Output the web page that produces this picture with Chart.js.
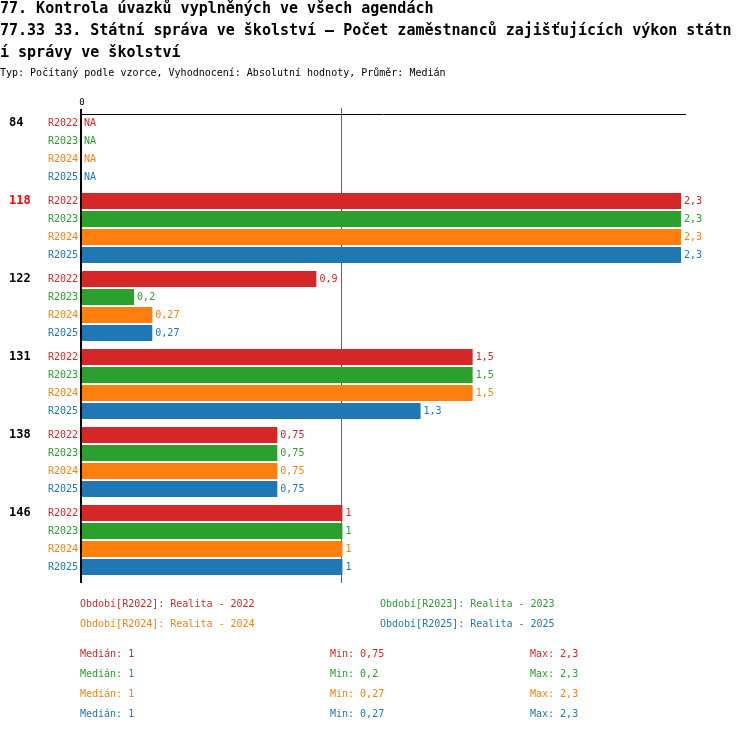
<!DOCTYPE html>
<html>
<head>
<meta charset="utf-8">
<script src="https://cdn.jsdelivr.net/npm/chart.js@4.4.1/dist/chart.umd.min.js"></script>
<style>
  body { margin: 0; background: #fff; }
  #wrap { position: relative; width: 750px; height: 732px; font-family: "DejaVu Sans Mono", monospace; }
  canvas { position: absolute; left: 0; top: 0; }
  .t { position: absolute; white-space: pre; }
  .title { left: 0; top: -3px; font-size: 15px; font-weight: bold; line-height: 22px; color: #000; }
  .sub { left: 0; top: 67px; font-size: 10px; line-height: 12px; color: #000; }
  .lg { font-size: 10px; line-height: 12px; }
</style>
</head>
<body>
<div id="wrap">
  <canvas id="chart" width="750" height="732"></canvas>
  <div class="t title">77. Kontrola úvazků vyplněných ve všech agendách
77.33 33. Státní správa ve školství – Počet zaměstnanců zajišťujících výkon státn
í správy ve školství</div>
  <div class="t sub">Typ: Počítaný podle vzorce, Vyhodnocení: Absolutní hodnoty, Průměr: Medián</div>
  <div id="legend"></div>
</div>
<script>
// kategorie (skupiny) a hodnoty řad
const categories = ['84', '118', '122', '131', '138', '146'];
const seriesNames = ['R2022', 'R2023', 'R2024', 'R2025'];
const seriesTitles = ['Realita - 2022', 'Realita - 2023', 'Realita - 2024', 'Realita - 2025'];
const colors = ['#d62728', '#2ca02c', '#ff7f0e', '#1f77b4'];

const r2022 = [null, 2.3, 0.9, 1.5, 0.75, 1];
const r2023 = [null, 2.3, 0.2, 1.5, 0.75, 1];
const r2024 = [null, 2.3, 0.27, 1.5, 0.75, 1];
const r2025 = [null, 2.3, 0.27, 1.3, 0.75, 1];
const seriesValues = [r2022, r2023, r2024, r2025];

const medians = [1, 1, 1, 1];
const mins = [0.75, 0.2, 0.27, 0.27];
const maxs = [2.3, 2.3, 2.3, 2.3];

const xTicks = [0];
const xMax = 2.3;

const MONO = '"DejaVu Sans Mono", monospace';

function fmt(v) {
  return String(v).replace('.', ',');
}

// čára mediánu pod sloupci
const medianPlugin = {
  id: 'median',
  beforeDatasetsDraw(chart) {
    const ctx = chart.ctx;
    const mx = Math.floor(chart.scales.x.getPixelForValue(medians[0])) - 0.5;
    ctx.save();
    ctx.strokeStyle = '#1f77b4';
    ctx.lineWidth = 1;
    ctx.beginPath();
    ctx.moveTo(mx, 108);
    ctx.lineTo(mx, 583);
    ctx.stroke();
    ctx.restore();
  }
};

// popisky a osy
const labelsPlugin = {
  id: 'labels',
  afterDatasetsDraw(chart) {
    const ctx = chart.ctx;
    const xs = chart.scales.x;
    ctx.save();

    // horní osa
    ctx.strokeStyle = '#000';
    ctx.lineWidth = 1;
    ctx.beginPath();
    ctx.moveTo(81, 114.5);
    ctx.lineTo(686, 114.5);
    ctx.stroke();

    // svislá osa
    ctx.lineWidth = 2;
    ctx.beginPath();
    ctx.moveTo(81, 109);
    ctx.lineTo(81, 583);
    ctx.stroke();

    ctx.fillStyle = '#000';
    ctx.font = '9px ' + MONO;
    ctx.textAlign = 'center';
    ctx.textBaseline = 'middle';
    xTicks.forEach(t => ctx.fillText(String(t), xs.getPixelForValue(t), 103));

    chart.data.datasets.forEach((ds, di) => {
      const meta = chart.getDatasetMeta(di);
      meta.data.forEach((bar, i) => {
        const y = bar.y;
        const v = ds.data[i];
        // název skupiny
        if (di === 0) {
          ctx.fillStyle = i === 1 ? '#ff0000' : '#000';
          ctx.font = 'bold 12px ' + MONO;
          ctx.textAlign = 'left';
          ctx.fillText(categories[i], 9, y);
        }
        ctx.fillStyle = colors[di];
        ctx.font = '10px ' + MONO;
        ctx.textAlign = 'right';
        ctx.fillText(seriesNames[di], 78, y);
        ctx.textAlign = 'left';
        if (v === null) {
          ctx.fillText('NA', 84, y);
        } else {
          ctx.fillText(fmt(v), xs.getPixelForValue(v) + 3, y);
        }
      });
    });
    ctx.restore();
  }
};

const ctx = document.getElementById('chart').getContext('2d');
const myChart = new Chart(ctx, {
  type: 'bar',
  data: {
    labels: categories,
    datasets: seriesNames.map((name, i) => ({
      label: name,
      data: seriesValues[i],
      backgroundColor: colors[i],
      borderWidth: 0,
      categoryPercentage: 72 / 78,
      barPercentage: 16 / 18
    }))
  },
  options: {
    indexAxis: 'y',
    responsive: false,
    animation: false,
    devicePixelRatio: 1,
    layout: { padding: { left: 82, right: 69, top: 111, bottom: 153 } },
    scales: {
      x: { display: false, min: 0, max: xMax },
      y: { display: false }
    },
    plugins: {
      legend: { display: false },
      tooltip: { enabled: false }
    }
  },
  plugins: [medianPlugin, labelsPlugin]
});

// legenda a statistiky jako text
const legend = document.getElementById('legend');
function addText(text, x, yc, color) {
  const d = document.createElement('div');
  d.className = 't lg';
  d.style.left = x + 'px';
  d.style.top = (yc - 6) + 'px';
  d.style.color = color;
  d.textContent = text;
  legend.appendChild(d);
}
seriesNames.forEach((name, i) => {
  addText('Období[' + name + ']: ' + seriesTitles[i], i % 2 === 0 ? 80 : 380, 604 + Math.floor(i / 2) * 20, colors[i]);
  addText('Medián: ' + fmt(medians[i]), 80, 654 + i * 20, colors[i]);
  addText('Min: ' + fmt(mins[i]), 330, 654 + i * 20, colors[i]);
  addText('Max: ' + fmt(maxs[i]), 530, 654 + i * 20, colors[i]);
});
</script>
</body>
</html>
